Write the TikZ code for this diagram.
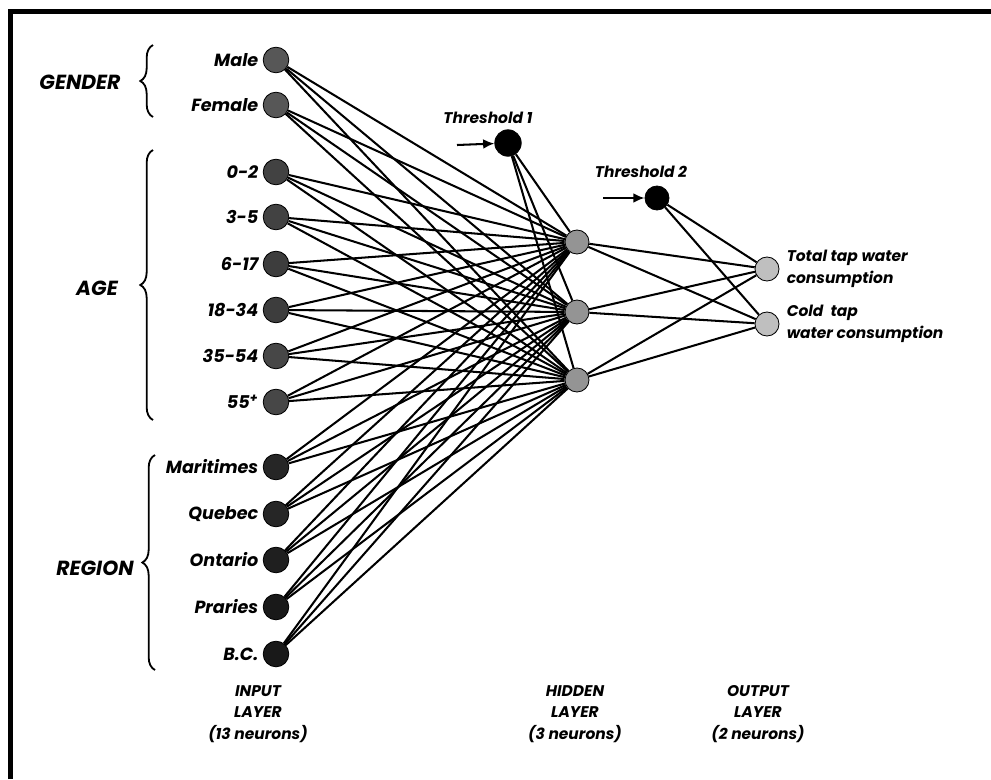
\documentclass[tikz,border=0pt]{standalone}
\usepackage{fontspec}
\setmainfont{Poppins}
\usetikzlibrary{positioning, arrows.meta, decorations.pathreplacing}

\begin{document}
\begin{tikzpicture}[
    x=0.025cm, y=-0.025cm,
    font=\bfseries\itshape\fontsize{11}{15.5}\selectfont,
    every node/.style={inner sep=1pt},
    neuron/.style={circle, draw=black, line width=0.6pt, minimum size=0.64cm, inner sep=0pt},
    inlab/.style={font=\bfseries\itshape\fontsize{12.5}{15}\selectfont},
    link/.style={line width=1.45pt},
    grp/.style={font=\bfseries\itshape\fontsize{14.5}{16}\selectfont},
    grpbrace/.style={decorate, decoration={brace, amplitude=9pt}, line width=1.3pt},
  ]
  \useasboundingbox (0,0) rectangle (991,779);

  % Frame (top and left edge only)
  \draw[line width=2.9pt] (10.5,779) -- (10.5,11.5) -- (991,11.5);

  % Input layer
  \foreach \n/\y/\lab/\col in {1/60/Male/black!66, 2/105/Female/black!66,
      3/172/0-2/black!74, 4/217/3-5/black!74, 5/264/6-17/black!76,
      6/310/18-34/black!76, 7/356/35-54/black!72, 8/402/55\textsuperscript{+}/black!72,
      9/467/Maritimes/black!85, 10/514/Quebec/black!85, 11/560/Ontario/black!88,
      12/607/Praries/black!90, 13/654/B.C./black!90}
  {
    \node[neuron, fill=\col] (in\n) at (276,\y) {};
    \node[inlab, left=2pt of in\n] (lab\n) {\lab};
  }

  % Hidden layer and thresholds
  \foreach \j/\y in {1/242, 2/312, 3/380}
    \node[neuron, fill=black!42, minimum size=0.6cm] (hid\j) at (577,\y) {};
  \node[neuron, fill=black, minimum size=0.66cm] (thr1) at (508,143) {};
  \node[neuron, fill=black, minimum size=0.6cm] (thr2) at (657,198) {};

  % Output layer
  \node[neuron, fill=black!25, minimum size=0.6cm] (out1) at (767,269) {};
  \node[neuron, fill=black!25, minimum size=0.6cm] (out2) at (767,324) {};

  % Connections
  \foreach \i in {1,...,13}
    \foreach \j in {1,2,3}
      \draw[link] (in\i) -- (hid\j);
  \foreach \j in {1,2,3}
  {
    \draw[link] (thr1) -- (hid\j);
    \draw[link] (hid\j) -- (out1);
    \draw[link] (hid\j) -- (out2);
  }
  \draw[link] (thr2) -- (out1);
  \draw[link] (thr2) -- (out2);

  % Threshold inputs
  \coordinate (bias1) at (457,145);
  \coordinate (bias2) at (603,198);
  \draw[link, -{Latex[length=8pt, width=7pt]}] (bias1) -- (thr1);
  \draw[link, -{Latex[length=8pt, width=7pt]}] (bias2) -- (thr2);
  \node (thrlab1) at (488,118) {Threshold 1};
  \node (thrlab2) at (641,172) {Threshold 2};

  % Output labels
  \node[right=4pt of out1, align=left] (outlab1) {Total tap water\\consumption};
  \node[right=4pt of out2, align=left] (outlab2) {Cold\ \ tap\\water consumption};

  % Groups
  \draw[grpbrace] (153,117) -- (153,45);
  \node[grp] (gender) at (80,82) {GENDER};
  \draw[grpbrace] (153,420) -- (153,150);
  \node[grp] (age) at (97,288) {AGE};
  \draw[grpbrace] (155,670) -- (155,455);
  \node[grp] (region) at (95,568) {REGION};

  % Layer captions
  \node[align=center] (inlayer) at (258,714) {INPUT\\LAYER\\(13 neurons)};
  \node[align=center] (hidlayer) at (575,714) {HIDDEN\\LAYER\\(3 neurons)};
  \node[align=center] (outlayer) at (758,714) {OUTPUT\\LAYER\\(2 neurons)};
\end{tikzpicture}
\end{document}
